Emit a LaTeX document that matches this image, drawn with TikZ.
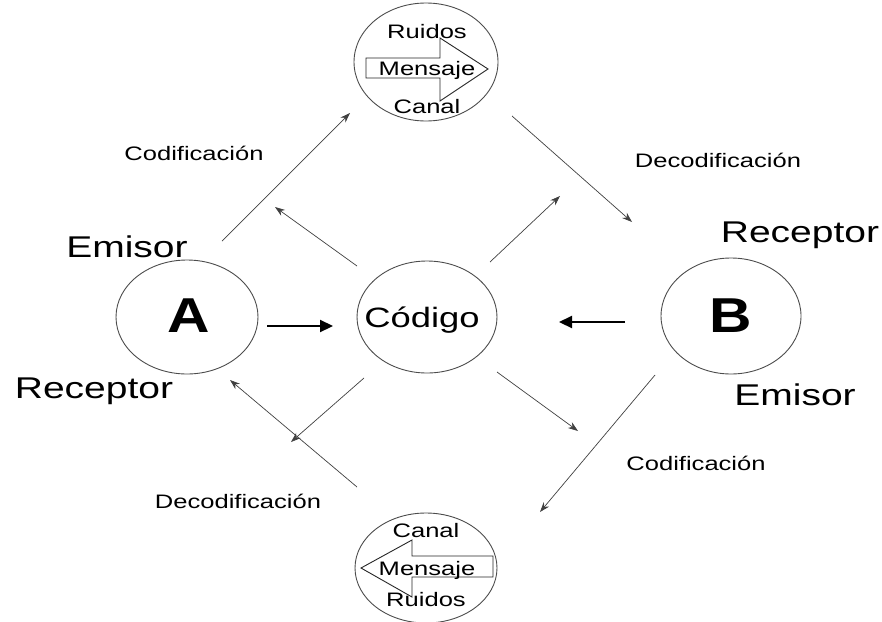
\documentclass[tikz,border=0pt]{standalone}
\usepackage{fontspec}
\setmainfont{Liberation Sans}
\usetikzlibrary{arrows.meta}
\newcommand\hstretch[2]{\scalebox{#1}[1]{#2}}
\tikzset{
  ell/.style={draw=black!70, line width=0.9pt},
  thin arrow/.style={draw=black!75, line width=0.7pt, -{Stealth[length=10pt,width=7pt]}},
  thick arrow/.style={draw=black, line width=2.2pt, -{Triangle[length=13pt,width=12pt]}},
  txt/.style={anchor=base, inner sep=0pt},
  big/.style={txt, font=\fontsize{30}{32}\selectfont},
  mid/.style={txt, font=\fontsize{19.5}{21}\selectfont},
  small/.style={txt, font=\fontsize{19.5}{21}\selectfont},
  letter/.style={txt, font=\fontsize{49}{52}\selectfont\bfseries},
  blockarrow/.style={draw=black!85, line width=0.9pt, fill=white},
}
\begin{document}
\begin{tikzpicture}[x=1pt,y=-1pt]
\useasboundingbox (0,0) rectangle (882,621);
% ellipses
\draw[ell] (187,317) ellipse [x radius=71, y radius=57];
\draw[ell] (427,317) ellipse [x radius=70, y radius=56];
\draw[ell] (731,316) ellipse [x radius=70, y radius=58];
\draw[ell] (426,62) ellipse [x radius=72, y radius=59];
\draw[ell] (426,568) ellipse [x radius=71, y radius=55];
% block arrows
\draw[blockarrow] (366,58) -- (440,58) -- (440,38) -- (488,69) -- (440,101) -- (440,78) -- (366,78) -- cycle;
\draw[blockarrow] (493,556) -- (412,556) -- (412,540) -- (361,568) -- (412,597) -- (412,577) -- (493,577) -- cycle;
% nodes
\node[letter] (A) at (189,332) {\hstretch{1.2}{A}};
\node[letter] (B) at (731,332) {\hstretch{1.2}{B}};
\node[txt, font=\fontsize{28}{30}\selectfont] (cod) at (422,327) {\hstretch{1.3}{Código}};
\node[small] (r1) at (427,38) {\hstretch{1.31}{Ruidos}};
\node[small] (m1) at (427,75) {\hstretch{1.31}{Mensaje}};
\node[small] (c1) at (427,113) {\hstretch{1.31}{Canal}};
\node[small] (c2) at (426,537) {\hstretch{1.31}{Canal}};
\node[small] (m2) at (427,575) {\hstretch{1.31}{Mensaje}};
\node[small] (r2) at (426,606) {\hstretch{1.31}{Ruidos}};
\node[big] (em1) at (127,257) {\hstretch{1.3}{Emisor}};
\node[big] (re1) at (94,398) {\hstretch{1.3}{Receptor}};
\node[big] (re2) at (800,242) {\hstretch{1.3}{Receptor}};
\node[big] (em2) at (795,405) {\hstretch{1.3}{Emisor}};
\node[mid] (l1) at (194,160) {\hstretch{1.31}{Codificación}};
\node[mid] (l2) at (718,167) {\hstretch{1.31}{Decodificación}};
\node[mid] (l3) at (696,470) {\hstretch{1.31}{Codificación}};
\node[mid] (l4) at (238,508) {\hstretch{1.31}{Decodificación}};
% connector end points
\coordinate (p1) at (222,241); \coordinate (q1) at (350,113);
\coordinate (p2) at (512,116); \coordinate (q2) at (632,222);
\coordinate (p3) at (655,375); \coordinate (q3) at (540,512);
\coordinate (p4) at (357,487); \coordinate (q4) at (230,380);
\coordinate (c0a) at (357,266); \coordinate (d1) at (275,207);
\coordinate (c0b) at (490,262); \coordinate (d2) at (560,196);
\coordinate (c0c) at (364,378); \coordinate (d3) at (291,442);
\coordinate (c0d) at (497,372); \coordinate (d4) at (578,431);
\coordinate (t1) at (267,326); \coordinate (u1) at (333,326);
\coordinate (t2) at (625,322); \coordinate (u2) at (559,322);
% connectors
\draw[thin arrow] (p1) -- (q1);
\draw[thin arrow] (p2) -- (q2);
\draw[thin arrow] (p3) -- (q3);
\draw[thin arrow] (p4) -- (q4);
\draw[thin arrow] (c0a) -- (d1);
\draw[thin arrow] (c0b) -- (d2);
\draw[thin arrow] (c0c) -- (d3);
\draw[thin arrow] (c0d) -- (d4);
\draw[thick arrow] (t1) -- (u1);
\draw[thick arrow] (t2) -- (u2);
\end{tikzpicture}
\end{document}
